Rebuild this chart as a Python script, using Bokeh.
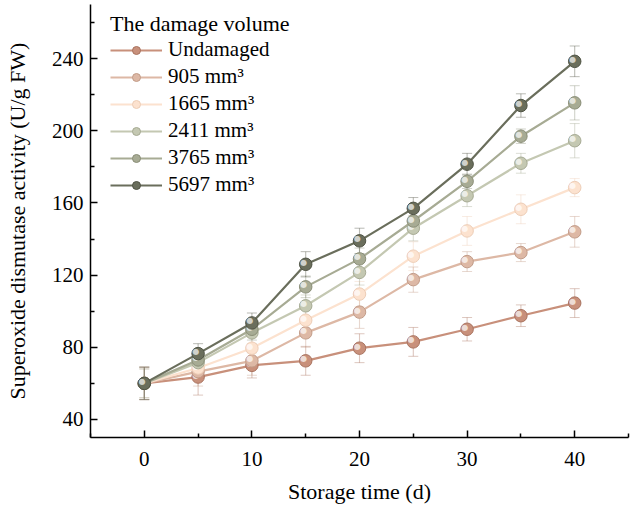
from bokeh.plotting import figure
from bokeh.models import ColumnDataSource, Whisker, Legend, LegendItem, FixedTicker, Range1d
from bokeh.core.properties import value
from bokeh.embed import file_html
from bokeh.resources import INLINE

days = [0, 5, 10, 15, 20, 25, 30, 35, 40]
series_names = ["Undamaged", "905 mm³", "1665 mm³", "2411 mm³", "3765 mm³", "5697 mm³"]
undamaged = [60, 63.5, 70, 72.5, 79.5, 83, 90, 97.5, 104.5]
v905 = [60, 66.5, 72.5, 88, 99.5, 117.5, 127.5, 132.5, 144]
v1665 = [60, 68.5, 79.5, 95, 109.5, 130.5, 144.5, 156.5, 168.5]
v2411 = [60, 71.5, 88, 103, 121.5, 146, 164, 182, 194.5]
v3765 = [60, 73, 90, 113.5, 129, 150, 172, 197, 215.5]
v5697 = [60, 76.5, 93.5, 126, 139, 157, 181.5, 214, 238.5]
err_undamaged = [9, 10, 7, 8, 8, 8, 6.5, 6, 8]
err_905 = [9, 8, 8, 8, 9, 7, 5.5, 5, 8.5]
err_1665 = [8, 7, 6, 7, 7, 8, 8, 8, 5]
err_2411 = [9, 6, 6, 6, 7, 7, 6, 5.5, 9.5]
err_3765 = [8, 6, 6, 6, 6, 6, 4, 4, 9.5]
err_5697 = [9, 5.5, 5.5, 7, 7, 6, 6, 6.5, 8.5]
colors = ["#C8907B", "#DDB8A5", "#FCE2CF", "#C4C8B2", "#A7AB94", "#6A6E5C"]
edge_colors = ["#A9735F", "#C29C88", "#EDCDB6", "#A6AA93", "#8A8E77", "#4F5344"]

values_all = [undamaged, v905, v1665, v2411, v3765, v5697]
errs_all = [err_undamaged, err_905, err_1665, err_2411, err_3765, err_5697]

FONT = "Liberation Serif"

p = figure(width=632, height=509, output_backend="svg", toolbar_location=None,
           x_range=Range1d(-5, 45), y_range=Range1d(30, 270),
           min_border_left=90, min_border_right=4, min_border_top=4, min_border_bottom=72)
p.outline_line_color = None
p.xgrid.visible = False
p.ygrid.visible = False
p.background_fill_color = "white"
p.border_fill_color = "white"

for ax in (p.xaxis[0], p.yaxis[0]):
    ax.axis_line_color = "black"
    ax.axis_line_width = 1.5
    ax.major_tick_line_color = "black"
    ax.minor_tick_line_color = "black"
    ax.major_tick_line_width = 1.5
    ax.minor_tick_line_width = 1.5
    ax.major_tick_in = 7
    ax.major_tick_out = 0
    ax.minor_tick_in = 4
    ax.minor_tick_out = 0
    ax.major_label_text_font = FONT
    ax.major_label_text_font_size = "21px"
    ax.major_label_text_color = "black"
    ax.axis_label_text_font = FONT
    ax.axis_label_text_font_size = "22px"
    ax.axis_label_text_font_style = "normal"
    ax.axis_label_text_color = "black"

p.xaxis.ticker = FixedTicker(ticks=[0, 10, 20, 30, 40], minor_ticks=[-5, 5, 15, 25, 35, 45])
p.yaxis.ticker = FixedTicker(ticks=[40, 80, 120, 160, 200, 240], minor_ticks=[60, 100, 140, 180, 220, 260])
p.xaxis.axis_label = "Storage time (d)"
p.yaxis.axis_label = "Superoxide dismutase activity (U/g FW)"
p.xaxis.major_label_standoff = 14
p.xaxis.axis_label_standoff = 10
p.yaxis.major_label_standoff = 7
p.yaxis.axis_label_standoff = 19

items = []
for name, vals, errs, c, ec in zip(series_names, values_all, errs_all, colors, edge_colors):
    src = ColumnDataSource(dict(x=days, y=vals,
                                lo=[v - e for v, e in zip(vals, errs)],
                                hi=[v + e for v, e in zip(vals, errs)]))
    w = Whisker(base="x", lower="lo", upper="hi", source=src,
                line_color=ec, line_alpha=0.4, line_width=1.1)
    w.upper_head.size = 10
    w.lower_head.size = 10
    w.upper_head.line_color = ec
    w.lower_head.line_color = ec
    w.upper_head.line_alpha = 0.4
    w.lower_head.line_alpha = 0.4
    p.add_layout(w)

for name, vals, errs, c, ec in zip(series_names, values_all, errs_all, colors, edge_colors):
    src = ColumnDataSource(dict(x=days, y=vals))
    ln = p.line("x", "y", source=src, line_color=c, line_width=2.2)
    mk = p.scatter("x", "y", source=src, size=12.5, fill_color=c, line_color=ec, line_width=1)
    hl = p.text("x", "y", source=src, text=value("●"), text_font=value("DejaVu Sans"),
                text_font_size="8px", text_color="white", text_alpha=0.7,
                text_align="center", text_baseline="middle", x_offset=-2, y_offset=-2)
    items.append(LegendItem(label=name, renderers=[ln, mk]))

legend = Legend(items=items, location=(20, 240), title="The damage volume",
                title_text_font=FONT, title_text_font_size="22px", title_text_font_style="normal",
                title_text_color="black", title_standoff=0,
                label_text_font=FONT, label_text_font_size="21px", label_text_color="black",
                glyph_width=52, glyph_height=20, label_height=20, label_standoff=6,
                spacing=2, padding=0, margin=0,
                border_line_alpha=0, background_fill_alpha=0)
p.add_layout(legend)

open("out.html", "w").write(file_html(p, INLINE))
